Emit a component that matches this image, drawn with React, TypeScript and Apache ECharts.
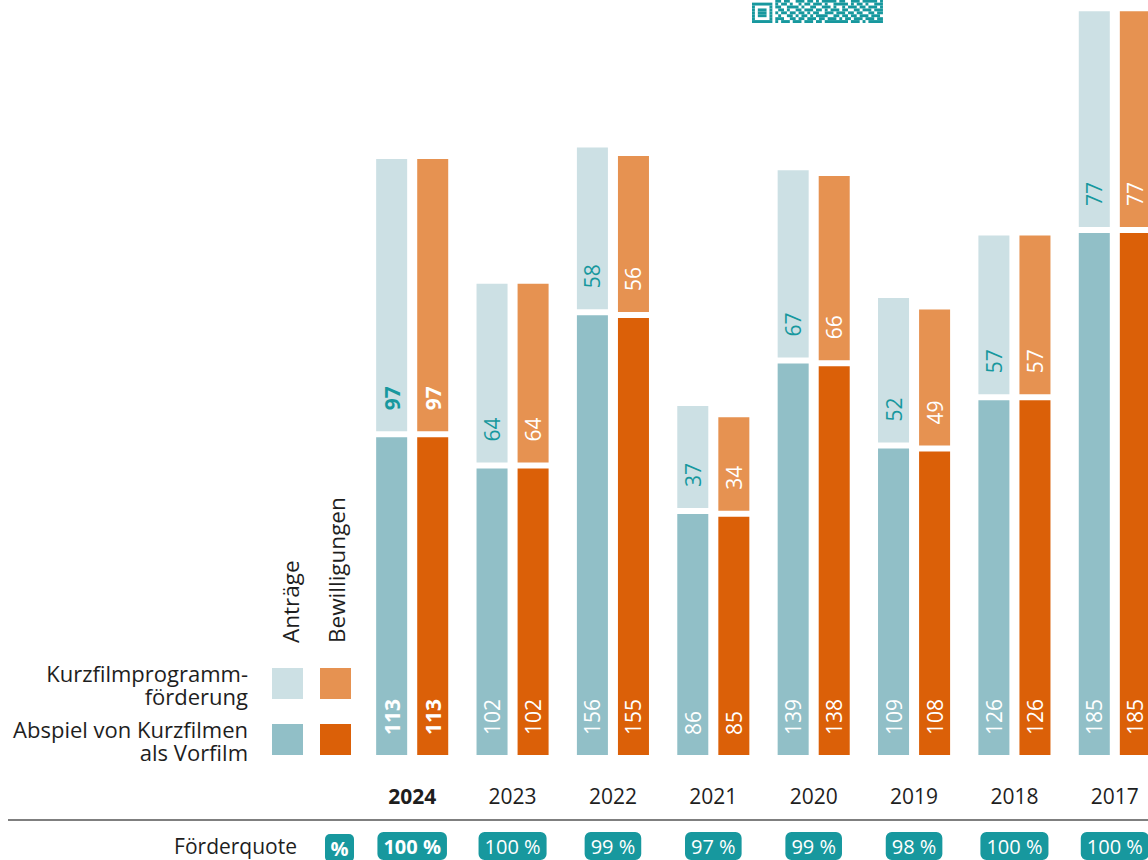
import React, { useEffect, useRef } from "react";
import * as echarts from "echarts";

// ---- data ----
const years = ["2024", "2023", "2022", "2021", "2020", "2019", "2018", "2017"];
const antraegeVorfilm = [113, 102, 156, 86, 139, 109, 126, 185];
const antraegeProgramm = [97, 64, 58, 37, 67, 52, 57, 77];
const bewilligungenVorfilm = [113, 102, 155, 85, 138, 108, 126, 185];
const bewilligungenProgramm = [97, 64, 56, 34, 66, 49, 57, 77];
const foerderquote = ["100 %", "100 %", "99 %", "97 %", "99 %", "98 %", "100 %", "100 %"];
const highlightYear = "2024";

const legendRows = [
  ["Kurzfilmprogramm-", "förderung"],
  ["Abspiel von Kurzfilmen", "als Vorfilm"],
];
const legendCols = ["Anträge", "Bewilligungen"];

// decorative QR code fragment (bottom rows only visible)
const qrRows = [
  "000000001101100111011010111110110011101111101",
  "111111101011010010110111010011111010110100111",
  "100000101100111101001100111010010111011011101",
  "101110100110100110111011010111011001101110111",
  "101110101011011011010110011101110110110011011",
  "101110100100110101101011110011011011011101110",
  "100000101110011011011101101110101101110111011",
  "111111101011101110111011011111111011101011111",
];

const COL = {
  tealLight: "#cce0e4",
  tealDark: "#91bfc7",
  orangeLight: "#e69251",
  orangeDark: "#db6008",
  teal: "#17989e",
  text: "#1e1e1e",
};
const FONT = "'Open Sans', 'Noto Sans', sans-serif";

function makeRender(side: number, lightColor: string, darkColor: string, lightLabel: string) {
  return (params: any, api: any) => {
    const idx = api.value(0);
    const low = api.value(1);
    const high = api.value(2);
    const base = api.coord([idx, 0]);
    const p1 = api.coord([idx, low]);
    const p2 = api.coord([idx, low + high]);
    const band = api.size([1, 0])[0];
    const barW = band * 0.309;
    const inner = band * 0.05;
    const x0 = side < 0 ? base[0] - inner - barW : base[0] + inner;
    const cx = x0 + barW / 2;
    const half = 3;
    const bold = years[idx] === highlightYear;
    const fw = bold ? "bold" : "normal";
    return {
      type: "group",
      children: [
        {
          type: "rect",
          shape: { x: x0, y: p1[1] + half, width: barW, height: base[1] - p1[1] - half },
          style: { fill: darkColor },
        },
        {
          type: "rect",
          shape: { x: x0, y: p2[1], width: barW, height: p1[1] - half - p2[1] },
          style: { fill: lightColor },
        },
        {
          type: "text",
          x: cx,
          y: base[1] - 20,
          rotation: Math.PI / 2,
          style: {
            text: String(low),
            fill: "#ffffff",
            fontSize: 21,
            fontFamily: FONT,
            fontWeight: fw,
            align: "left",
            verticalAlign: "middle",
          },
        },
        {
          type: "text",
          x: cx,
          y: p1[1] - half - 21,
          rotation: Math.PI / 2,
          style: {
            text: String(high),
            fill: lightLabel,
            fontSize: 21,
            fontFamily: FONT,
            fontWeight: fw,
            align: "left",
            verticalAlign: "middle",
          },
        },
      ],
    };
  };
}

function qrGraphics() {
  const out: any[] = [];
  const m = 2.91;
  const x0 = 752;
  const yBottom = 23;
  qrRows.forEach((row, r) => {
    const y = yBottom - (qrRows.length - r) * m;
    let c = 0;
    while (c < row.length) {
      if (row[c] === "1") {
        let e = c;
        while (e < row.length && row[e] === "1") e++;
        out.push({
          type: "rect",
          shape: { x: x0 + c * m, y, width: (e - c) * m, height: m },
          style: { fill: COL.teal },
          silent: true,
        });
        c = e;
      } else c++;
    }
  });
  return out;
}

export default function App() {
  const ref = useRef<HTMLDivElement>(null);
  useEffect(() => {
    if (!ref.current) return;
    const chart = echarts.init(ref.current, undefined, { renderer: "svg" });
    const textStyle = (extra: any) => ({
      fill: COL.text,
      fontSize: 21,
      fontFamily: FONT,
      ...extra,
    });
    const legendTexts: any[] = [];
    const rowCenters = [673, 729];
    legendRows.forEach((lines, r) => {
      lines.forEach((line, l) => {
        legendTexts.push({
          type: "text",
          x: 248,
          y: rowCenters[r] + l * 22.5,
          style: textStyle({ text: line, fontSize: 22, align: "right", verticalAlign: "middle" }),
        });
      });
    });
    const option: any = {
      animation: false,
      backgroundColor: "#ffffff",
      grid: { left: 362, top: 0, width: 803, height: 757 },
      xAxis: [
        {
          type: "category",
          data: years,
          position: "bottom",
          axisLine: { show: false },
          axisTick: { show: false },
          axisLabel: {
            interval: 0,
            margin: 41,
            verticalAlign: "middle",
            formatter: (v: string) => (v === highlightYear ? `{b|${v}}` : `{n|${v}}`),
            rich: {
              n: { fontSize: 21, fontFamily: FONT, color: COL.text },
              b: { fontSize: 21, fontFamily: FONT, color: COL.text, fontWeight: "bold" },
            },
          },
        },
        {
          type: "category",
          data: years,
          position: "bottom",
          axisLine: { show: false },
          axisTick: { show: false },
          axisLabel: {
            interval: 0,
            margin: 91,
            verticalAlign: "middle",
            formatter: (v: string, i: number) =>
              v === highlightYear ? `{b|${foerderquote[i]}}` : `{n|${foerderquote[i]}}`,
            rich: {
              n: {
                fontSize: 20,
                fontFamily: FONT,
                color: "#ffffff",
                backgroundColor: COL.teal,
                borderRadius: 6,
                padding: [4, 6, 4, 6],
                lineHeight: 20,
              },
              b: {
                fontSize: 20,
                fontFamily: FONT,
                fontWeight: "bold",
                color: "#ffffff",
                backgroundColor: COL.teal,
                borderRadius: 6,
                padding: [4, 6, 4, 6],
                lineHeight: 20,
              },
            },
          },
        },
      ],
      yAxis: { type: "value", min: 0, max: 266, show: false, splitLine: { show: false } },
      series: [
        {
          type: "custom",
          name: "Anträge",
          xAxisIndex: 0,
          renderItem: makeRender(-1, COL.tealLight, COL.tealDark, COL.teal),
          encode: { x: 0, y: [1, 2] },
          data: years.map((_, i) => [i, antraegeVorfilm[i], antraegeProgramm[i]]),
        },
        {
          type: "custom",
          name: "Bewilligungen",
          xAxisIndex: 0,
          renderItem: makeRender(1, COL.orangeLight, COL.orangeDark, "#ffffff"),
          encode: { x: 0, y: [1, 2] },
          data: years.map((_, i) => [i, bewilligungenVorfilm[i], bewilligungenProgramm[i]]),
        },
      ],
      graphic: [
        ...qrGraphics(),
        {
          type: "line",
          shape: { x1: 8, y1: 820, x2: 1200, y2: 820 },
          style: { stroke: "#555555", lineWidth: 1.5 },
        },
        {
          type: "text",
          x: 297,
          y: 846,
          style: textStyle({ text: "Förderquote", align: "right", verticalAlign: "middle" }),
        },
        {
          type: "rect",
          shape: { x: 325, y: 834, width: 29, height: 28, r: 5 },
          style: { fill: COL.teal },
        },
        {
          type: "text",
          x: 339.5,
          y: 848,
          style: textStyle({
            text: "%",
            fill: "#ffffff",
            fontSize: 20,
            fontWeight: "bold",
            align: "center",
            verticalAlign: "middle",
          }),
        },
        { type: "rect", shape: { x: 272, y: 668, width: 31, height: 31 }, style: { fill: COL.tealLight } },
        { type: "rect", shape: { x: 320, y: 668, width: 31, height: 31 }, style: { fill: COL.orangeLight } },
        { type: "rect", shape: { x: 272, y: 724, width: 31, height: 31 }, style: { fill: COL.tealDark } },
        { type: "rect", shape: { x: 320, y: 724, width: 31, height: 31 }, style: { fill: COL.orangeDark } },
        ...legendTexts,
        {
          type: "text",
          x: 290,
          y: 643,
          rotation: Math.PI / 2,
          style: textStyle({ text: legendCols[0], fontSize: 22.5, align: "left", verticalAlign: "middle" }),
        },
        {
          type: "text",
          x: 336,
          y: 643,
          rotation: Math.PI / 2,
          style: textStyle({ text: legendCols[1], fontSize: 22.5, align: "left", verticalAlign: "middle" }),
        },
      ],
    };
    chart.setOption(option);
    return () => chart.dispose();
  }, []);
  return (
    <div
      style={{
        position: "absolute",
        left: 0,
        top: 0,
        width: 1148,
        height: 860,
        overflow: "hidden",
      }}
    >
      <div ref={ref} style={{ width: 1200, height: 860 }} />
    </div>
  );
}
